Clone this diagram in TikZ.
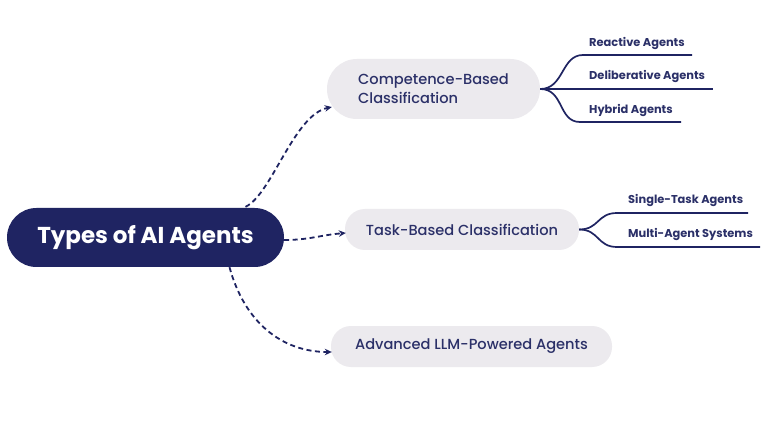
\documentclass[tikz,border=0pt]{standalone}
\usepackage{fontspec}
\setmainfont{Poppins}
\newfontfamily\pmed{Poppins Medium}
\usetikzlibrary{arrows.meta}
\definecolor{navy}{HTML}{1F2462}
\definecolor{boxgray}{HTML}{ECEAEE}
\definecolor{txt}{HTML}{2B3068}
\begin{document}
\begin{tikzpicture}[x=1pt,y=-1pt,
  root/.style={fill=navy, text=white, font=\fontsize{23}{26}\selectfont\bfseries,
    minimum width=277pt, minimum height=59pt, rounded corners=29.5pt, inner sep=0pt},
  cat/.style={fill=boxgray, text=txt, font=\fontsize{14.6}{19}\selectfont\pmed,
    rounded corners=20pt, inner sep=0pt, align=left},
  leaf/.style={text=txt, font=\fontsize{11.4}{13}\selectfont\bfseries, inner sep=0pt, anchor=base west},
  conn/.style={navy, line width=1.8pt, dashed, dash pattern=on 5pt off 3.5pt, -{Stealth[length=7pt,width=6.5pt]}},
  branch/.style={navy, line width=1.7pt}
]
\useasboundingbox[fill=white] (0,0) rectangle (768,430);

\node[root] (root) at (145.5,237.5) {Types of AI Agents};
\node[cat, minimum width=213pt, minimum height=60pt, rounded corners=30pt] (comp) at (433.5,89)
  {Competence-Based\\Classification};
\node[cat, minimum width=234pt, minimum height=41pt] (task) at (462,229.5) {Task-Based Classification};
\node[cat, minimum width=281pt, minimum height=41pt] (adv) at (471.5,346.5) {Advanced LLM-Powered Agents};

% leaf labels
\node[leaf] (react) at (589,46.5) {Reactive Agents};
\node[leaf] (delib) at (589,80) {Deliberative Agents};
\node[leaf] (hyb) at (589,113.5) {Hybrid Agents};
\node[leaf] (single) at (628,204) {Single-Task Agents};
\node[leaf] (multi) at (628,237.5) {Multi-Agent Systems};

\coordinate (r1) at (583,55);  \coordinate (r2) at (692,55);
\coordinate (d2) at (713,89);
\coordinate (h1) at (580,122); \coordinate (h2) at (681,122);
\coordinate (s1) at (617,213); \coordinate (s2) at (748,213);
\coordinate (m1) at (617,247); \coordinate (m2) at (760,247);

\draw[branch] (comp.east) .. controls +(24,0) and +(-22,0) .. (r1) -- (r2);
\draw[branch] (comp.east) -- (d2);
\draw[branch] (comp.east) .. controls +(24,0) and +(-22,0) .. (h1) -- (h2);
\draw[branch] (task.east) .. controls +(20,0) and +(-20,0) .. (s1) -- (s2);
\draw[branch] (task.east) .. controls +(20,0) and +(-20,0) .. (m1) -- (m2);

% dashed connectors
\draw[conn] ([xshift=100pt,yshift=1pt]root.north) .. controls +(26,-12) and +(-38,8) .. ([yshift=-18pt,xshift=5pt]comp.west);
\draw[conn] ([yshift=-2.5pt]root.east) .. controls +(25,0) and +(-25,2) .. ([yshift=-3.5pt,xshift=1pt]task.west);
\draw[conn] ([xshift=84pt]root.south) .. controls +(15,55) and +(-50,0) .. ([yshift=-5.5pt,xshift=1pt]adv.west);
\end{tikzpicture}
\end{document}
